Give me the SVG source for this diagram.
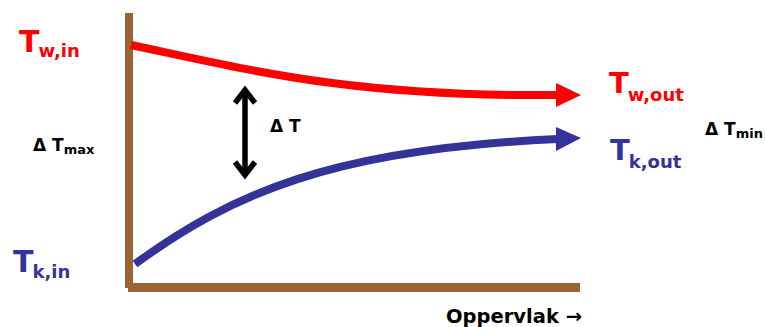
<svg xmlns="http://www.w3.org/2000/svg" width="765" height="327" viewBox="0 0 765 327">
<style>
text{font-family:"DejaVu Sans","Liberation Sans",sans-serif;font-weight:bold}
.red{fill:#FF0000}
.blue{fill:#333399}
.blk{fill:#000}
.axis{fill:#996633}
.curve{fill:none;stroke-width:8}
</style>
<rect width="765" height="327" fill="#fff"/>
<g id="axes">
<rect class="axis" x="125" y="13" width="8" height="275"/>
<rect class="axis" x="128" y="283" width="452" height="9"/>
</g>
<g id="connectors">
<path class="curve" stroke="#FF0000" d="M131,45 C250,70 350,97 558,95"/>
<polygon class="red" points="556,83 581,95 556,107"/>
<path class="curve" stroke="#333399" d="M135,264 C230,195 330,149 558,139"/>
<polygon class="blue" points="556,127 581,138 556,151"/>
<g id="deltaT-arrow" fill="none" stroke="#000" stroke-width="5.5">
<line x1="245" y1="91" x2="245" y2="174"/>
<polyline points="235,103 245,90 255,103"/>
<polyline points="235,162 245,175 255,162"/>
</g>
</g>
<g id="Tw-in"><text class="red" x="19" y="52" font-size="30">T<tspan font-size="18" dx="-1" dy="5">w,in</tspan></text></g>
<g id="Tk-in"><text class="blue" x="13" y="272" font-size="30">T<tspan font-size="18" dx="-1" dy="6">k,in</tspan></text></g>
<g id="dTmax"><text class="blk" x="33" y="151" font-size="17">Δ T<tspan font-size="13" dy="3">max</tspan></text></g>
<g id="dT"><text class="blk" x="270" y="132" font-size="17">Δ T</text></g>
<g id="Tw-out"><text class="red" x="609" y="93" font-size="29">T<tspan font-size="18" dx="-1" dy="8">w,out</tspan></text></g>
<g id="Tk-out"><text class="blue" x="610" y="160" font-size="29">T<tspan font-size="18" dx="-1" dy="8">k,out</tspan></text></g>
<g id="dTmin"><text class="blk" x="705" y="135" font-size="17">Δ T<tspan font-size="13" dy="3">min</tspan></text></g>
<g id="xlabel"><text class="blk" x="446" y="323" font-size="19.5">Oppervlak →</text></g>
</svg>
